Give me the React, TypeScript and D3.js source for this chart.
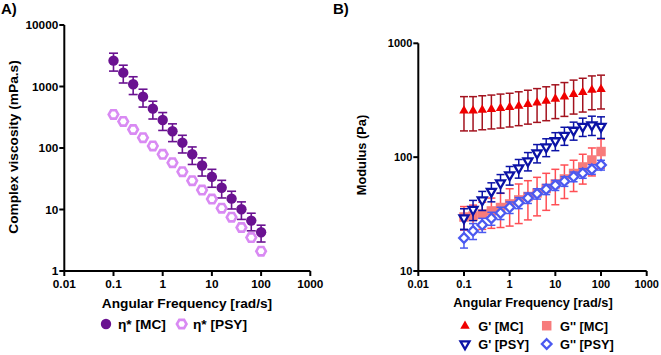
import React from "react";
import * as d3 from "d3";

// ---------- DATA ----------
const freq = [0.1, 0.158, 0.251, 0.398, 0.631, 1, 1.58, 2.51, 3.98, 6.31, 10, 15.8, 25.1, 39.8, 63.1, 100];

// Panel A: complex viscosity (mPa.s)
const etaMC = [2630, 1680, 1090, 683, 436, 285, 187, 122, 79, 52, 34, 22.6, 15, 10.1, 6.6, 4.26];
const etaMCsd = [850, 540, 350, 220, 140, 92, 60, 39, 25, 17, 11, 7.2, 4.8, 3.2, 2.1, 1.3];
const etaPSY = [351, 270, 200, 147, 108, 79, 57.7, 41.2, 29.4, 20.7, 14.8, 10.5, 7.5, 5.1, 3.5, 2.1];

// Panel B: modulus (Pa)
const gpMC = [255, 255, 260, 264, 269, 274, 282, 291, 301, 312, 325, 340, 357, 371, 389, 395];
const gpMCsd = [85, 85, 86, 87, 89, 90, 93, 96, 99, 103, 107, 112, 118, 122, 128, 130];
const gppMC = [29.8, 30.4, 31.7, 33.7, 36.1, 38.8, 42.1, 45.1, 48.5, 53.1, 58.2, 64.3, 71.9, 82, 94.4, 112];
const gppMCsd = [7, 7.5, 8.5, 10, 12, 14, 16, 17, 18, 19, 20, 21, 22, 24, 26, 32];
const gpPSY = [29.2, 34.7, 42.0, 50.0, 59.3, 69.8, 80.4, 92.7, 109, 123, 139, 155, 172, 186, 192, 186];
const gpPSYsd = [6, 7, 8, 9.5, 11, 13, 15, 17, 20, 22, 25, 28, 31, 34, 37, 40];
const gppPSY = [19.5, 22.5, 25.4, 29.0, 32.3, 36.2, 39.7, 43.8, 47.8, 52.2, 56.7, 61.4, 67.4, 72.2, 78.3, 85.4];
const gppPSYsd = [3.6, 3.6, 3.6, 3.8, 4, 4.2, 4.4, 4.6, 5, 5.3, 5.7, 6, 6.6, 7, 7.6, 8.4];

const xTicks = [0.01, 0.1, 1, 10, 100, 1000];
const xTickLabels = ["0.01", "0.1", "1", "10", "100", "1000"];
const yTicksA = [1, 10, 100, 1000, 10000];
const yTickLabelsA = ["1", "10", "100", "1000", "10000"];
const yTicksB = [10, 100, 1000];
const yTickLabelsB = ["10", "100", "1000"];

// ---------- STYLE ----------
const FONT = "'Liberation Sans', Arial, Helvetica, sans-serif";
const cMC = "#6a1291";
const cPSY = "#d98af3";
const cGpMC = "#f00000";
const cGpMCerr = "#a3121e";
const cGppMC = "#f77b7b";
const cGppMCerr = "#ff4f55";
const cGpPSY = "#0b12a6";
const cGppPSY = "#4b59f0";

// ---------- SHAPES ----------
const trianglePath = (s: number, down = false) => {
  const h = s * 0.87;
  const k = down ? -1 : 1;
  return `M0,${(-h * 2 / 3) * k}L${s / 2},${(h / 3) * k}L${-s / 2},${(h / 3) * k}Z`;
};
const squarePath = (s: number) => `M${-s / 2},${-s / 2}h${s}v${s}h${-s}Z`;
const diamondPath = (r: number) => `M0,${-r}L${r},0L0,${r}L${-r},0Z`;
const hexPath = (r: number) => {
  const pts = d3.range(6).map((i) => {
    const a = (Math.PI / 3) * i;
    return [r * Math.cos(a), r * Math.sin(a)] as [number, number];
  });
  return (d3.line()(pts) as string) + "Z";
};

type Scale = d3.ScaleLogarithmic<number, number>;

function ErrorBars({ xs, ys, sd, x, y, color, cap = 9, width = 1.6 }: any) {
  return (
    <g stroke={color} strokeWidth={width} fill="none">
      {xs.map((xv: number, i: number) => {
        const cx = x(xv);
        const lo = Math.max(ys[i] - sd[i], 1e-6);
        const hi = ys[i] + sd[i];
        const y1 = y(hi);
        const y2 = y(lo);
        return (
          <g key={i}>
            <line x1={cx} x2={cx} y1={y1} y2={y2} />
            <line x1={cx - cap / 2} x2={cx + cap / 2} y1={y1} y2={y1} />
            <line x1={cx - cap / 2} x2={cx + cap / 2} y1={y2} y2={y2} />
          </g>
        );
      })}
    </g>
  );
}

function Axes({ x, y, xt, xl, yt, yl, fs }: { x: Scale; y: Scale; xt: number[]; xl: string[]; yt: number[]; yl: string[]; fs: number }) {
  const [x0, x1] = x.range();
  const [y0, y1] = y.range();
  return (
    <g fontFamily={FONT} fontWeight="bold" fontSize={fs} fill="#000">
      <line x1={x0} x2={x0} y1={y0 + 1} y2={y1} stroke="#000" strokeWidth={2} />
      <line x1={x0 - 1} x2={x1} y1={y0} y2={y0} stroke="#000" strokeWidth={2} />
      {xt.map((t, i) => (
        <g key={"x" + i}>
          <line x1={x(t)} x2={x(t)} y1={y0} y2={y0 + 5} stroke="#000" strokeWidth={2} />
          <text x={x(t)} y={y0 + 17} textAnchor="middle">
            {xl[i]}
          </text>
        </g>
      ))}
      {yt.map((t, i) => (
        <g key={"y" + i}>
          <line x1={x0 - 5} x2={x0} y1={y(t)} y2={y(t)} stroke="#000" strokeWidth={2} />
          <text x={x0 - 6} y={y(t)} dy="0.36em" textAnchor="end">
            {yl[i]}
          </text>
        </g>
      ))}
    </g>
  );
}

export default function App() {
  const xA = d3.scaleLog().domain([0.01, 1000]).range([64.3, 310.3]);
  const yA = d3.scaleLog().domain([1, 10000]).range([271, 25]);
  const xB = d3.scaleLog().domain([0.01, 1000]).range([418.3, 646.7]);
  const yB = d3.scaleLog().domain([10, 1000]).range([271, 43.3]);

  return (
    <div style={{ position: "absolute", left: 0, top: 0 }}>
      <svg width={661} height={355} style={{ display: "block", background: "#fff" }}>
        <rect width={661} height={355} fill="#fff" />
        {/* Panel labels */}
        <text x={1} y={14} fontFamily={FONT} fontWeight="bold" fontSize={15}>A)</text>
        <text x={333} y={14} fontFamily={FONT} fontWeight="bold" fontSize={15}>B)</text>

        {/* ---------- Panel A ---------- */}
        <Axes x={xA} y={yA} xt={xTicks} xl={xTickLabels} yt={yTicksA} yl={yTickLabelsA} fs={11.8} />
        <text
          transform="translate(17.5,147) rotate(-90)"
          textAnchor="middle"
          fontFamily={FONT}
          fontWeight="bold"
          fontSize={13.7}
        >
          Complex viscosity (mPa.s)
        </text>
        <text x={187} y={308} textAnchor="middle" fontFamily={FONT} fontWeight="bold" fontSize={13.7}>
          Angular Frequency [rad/s]
        </text>

        <ErrorBars xs={freq} ys={etaMC} sd={etaMCsd} x={xA} y={yA} color={cMC} />
        {freq.map((f, i) => (
          <circle key={"mc" + i} cx={xA(f)} cy={yA(etaMC[i])} r={5.2} fill={cMC} />
        ))}
        {freq.map((f, i) => (
          <path
            key={"psy" + i}
            d={hexPath(4.8)}
            transform={`translate(${xA(f)},${yA(etaPSY[i])})`}
            fill="#fff"
            stroke={cPSY}
            strokeWidth={2.6}
          />
        ))}

        {/* Legend A */}
        <g fontFamily={FONT} fontWeight="bold" fontSize={13.7}>
          <circle cx={106} cy={324} r={5.2} fill={cMC} />
          <text x={118} y={329}>η* [MC]</text>
          <path d={hexPath(4.8)} transform="translate(181.7,324)" fill="#fff" stroke={cPSY} strokeWidth={2.6} />
          <text x={193} y={329}>η* [PSY]</text>
        </g>

        {/* ---------- Panel B ---------- */}
        <Axes x={xB} y={yB} xt={xTicks} xl={xTickLabels} yt={yTicksB} yl={yTickLabelsB} fs={11} />
        <text
          transform="translate(366,155) rotate(-90)"
          textAnchor="middle"
          fontFamily={FONT}
          fontWeight="bold"
          fontSize={12.8}
        >
          Modulus (Pa)
        </text>
        <text x={533} y={306.5} textAnchor="middle" fontFamily={FONT} fontWeight="bold" fontSize={12.8}>
          Angular Frequency [rad/s]
        </text>

        {/* G'' MC */}
        <ErrorBars xs={freq} ys={gppMC} sd={gppMCsd} x={xB} y={yB} color={cGppMCerr} cap={8} width={1.5} />
        {freq.map((f, i) => (
          <path key={"gppmc" + i} d={squarePath(9.5)} transform={`translate(${xB(f)},${yB(gppMC[i])})`} fill={cGppMC} />
        ))}
        {/* G'' PSY */}
        <ErrorBars xs={freq} ys={gppPSY} sd={gppPSYsd} x={xB} y={yB} color={cGppPSY} cap={8} width={1.5} />
        {freq.map((f, i) => (
          <path
            key={"gpppsy" + i}
            d={diamondPath(4.8)}
            transform={`translate(${xB(f)},${yB(gppPSY[i])})`}
            fill="#fff"
            stroke={cGppPSY}
            strokeWidth={2.3}
          />
        ))}
        {/* G' PSY */}
        <ErrorBars xs={freq} ys={gpPSY} sd={gpPSYsd} x={xB} y={yB} color={cGpPSY} cap={8} width={1.5} />
        {freq.map((f, i) => (
          <path
            key={"gppsy" + i}
            d={trianglePath(9, true)}
            transform={`translate(${xB(f)},${yB(gpPSY[i])})`}
            fill="#fff"
            stroke={cGpPSY}
            strokeWidth={2.3}
          />
        ))}
        {/* G' MC */}
        <ErrorBars xs={freq} ys={gpMC} sd={gpMCsd} x={xB} y={yB} color={cGpMCerr} cap={8} width={1.5} />
        {freq.map((f, i) => (
          <path key={"gpmc" + i} d={trianglePath(9.5)} transform={`translate(${xB(f)},${yB(gpMC[i])})`} fill={cGpMC} />
        ))}

        {/* Legend B */}
        <g fontFamily={FONT} fontWeight="bold" fontSize={12.8}>
          <path d={trianglePath(9.5)} transform="translate(465,326)" fill={cGpMC} />
          <text x={478.3} y={330.5}>G' [MC]</text>
          <path d={squarePath(9.5)} transform="translate(546.7,325.7)" fill={cGppMC} />
          <text x={560} y={330.5}>G'' [MC]</text>
          <path d={trianglePath(9, true)} transform="translate(465,344)" fill="#fff" stroke={cGpPSY} strokeWidth={2.3} />
          <text x={478.3} y={349}>G' [PSY]</text>
          <path d={diamondPath(4.8)} transform="translate(546.7,344)" fill="#fff" stroke={cGppPSY} strokeWidth={2.3} />
          <text x={560} y={349}>G'' [PSY]</text>
        </g>
      </svg>
    </div>
  );
}
